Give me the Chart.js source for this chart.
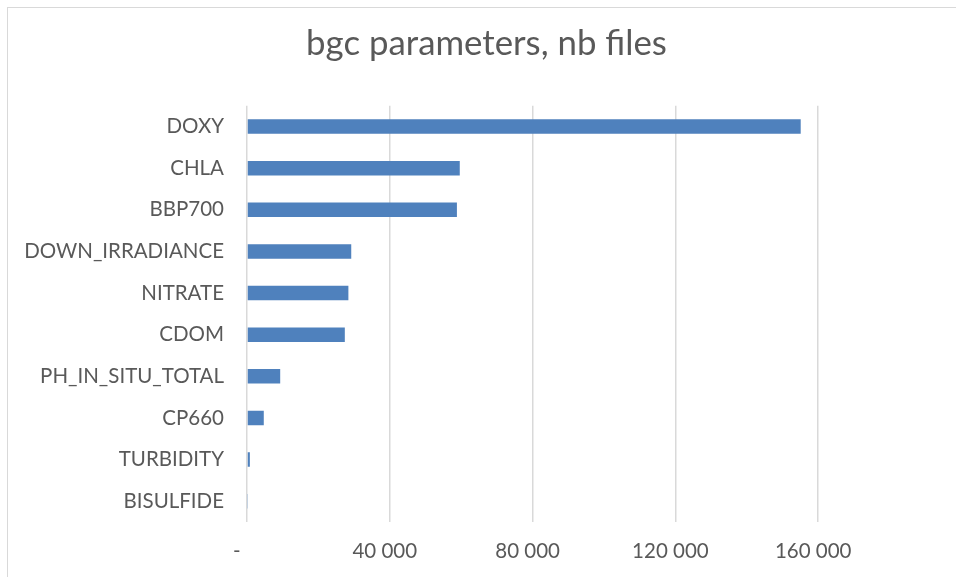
<!DOCTYPE html>
<html><head><meta charset="utf-8">
<script src="https://cdn.jsdelivr.net/npm/chart.js@4.4.1/dist/chart.umd.min.js"></script>
<style>
html,body{margin:0;padding:0;background:#fff;overflow:hidden;width:956px;height:577px;}
#wrap{position:absolute;left:0;top:0;width:1000px;height:577px;}
#frame{position:absolute;left:7px;top:7px;width:1100px;height:700px;border:1px solid #d9d9d9;pointer-events:none;}
</style></head><body>
<div id="wrap"><canvas id="c" width="1000" height="577"></canvas></div>
<div id="frame"></div>
<script>
const categories = ['DOXY','CHLA','BBP700','DOWN_IRRADIANCE','NITRATE','CDOM','PH_IN_SITU_TOTAL','CP660','TURBIDITY','BISULFIDE'];
const nbFiles = [155100, 59600, 58800, 29200, 28400, 27400, 9300, 4700, 800, 280];
const tickValues = [0, 40000, 80000, 120000, 160000];
const tickLabels = ['-', '40 000', '80 000', '120 000', '160 000'];
const titleText = 'bgc parameters, nb files';

const FONT = 'Lato';
const grey = '#595959';
new Chart(document.getElementById('c'), {
  type: 'bar',
  data: { labels: categories, datasets: [{ data: nbFiles, backgroundColor: '#4f81bd', borderWidth: 0, barPercentage: 0.35, categoryPercentage: 1 }] },
  options: {
    indexAxis: 'y', responsive: false, animation: false,
    layout: { padding: { left: 12, right: 39, top: 0, bottom: 0 } },
    plugins: {
      legend: { display: false }, tooltip: { enabled: false },
      title: { display: true, text: titleText, color: grey, font: { family: FONT, size: 34.8, weight: 'normal' }, padding: { top: 23, bottom: 41 } }
    },
    scales: {
      x: {
        min: 0, max: 200000,
        afterBuildTicks: s => { s.ticks = tickValues.concat([200000]).map(v => ({ value: v })); },
        ticks: { color: grey, font: { family: FONT, size: 20.5 }, padding: 17, labelOffset: -5, maxRotation: 0, autoSkip: false,
          callback: (v) => { const i = tickValues.indexOf(v); return i < 0 ? '' : (i === 0 ? tickLabels[i] + '  ' : tickLabels[i]); } },
        grid: { color: '#d9d9d9', lineWidth: 1.5, drawTicks: false },
        border: { display: false },
        afterFit: s => { s.height = 577 - 522; }
      },
      y: {
        ticks: { color: grey, font: { family: FONT, size: 20.5 }, padding: 15, autoSkip: false },
        grid: { display: false }, border: { display: false },
        afterFit: s => { s.width = 247 - 12; }
      }
    }
  }
});
</script>
</body></html>
